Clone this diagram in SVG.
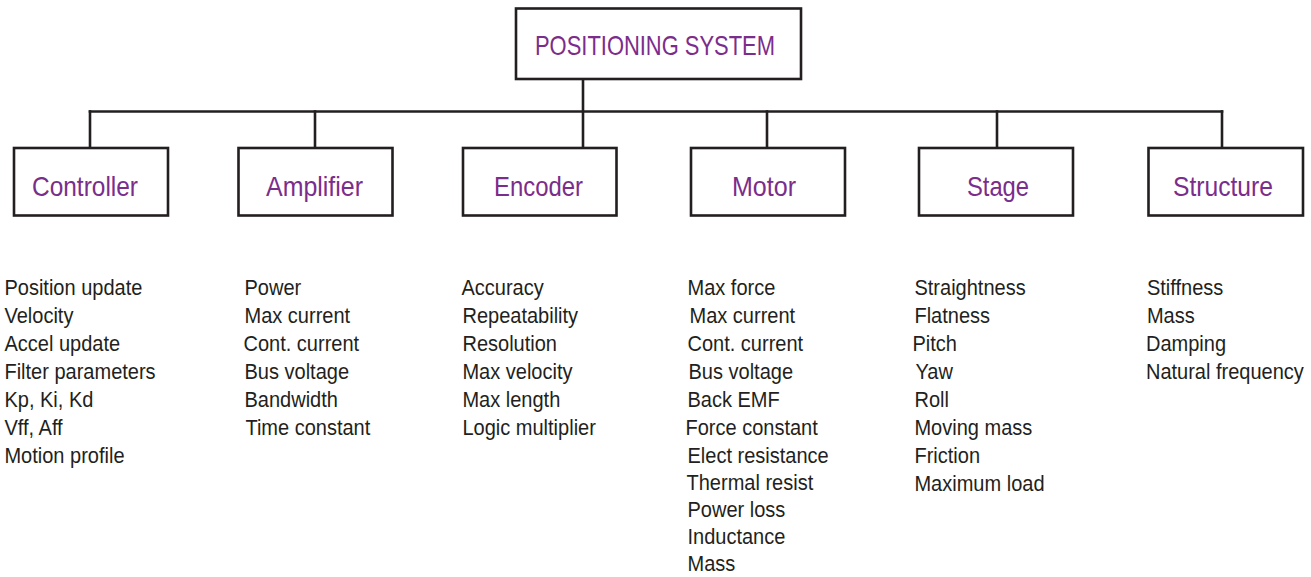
<svg xmlns="http://www.w3.org/2000/svg" width="1311" height="577" viewBox="0 0 1311 577">
  <style>
    .box { fill: #ffffff; stroke: #231f20; stroke-width: 2.6; }
    .wire { fill: none; stroke: #231f20; stroke-width: 2.6; stroke-linecap: square; }
    .head { font-family: "Liberation Sans", Arial, sans-serif; font-size: 28px; fill: #7b2d8b; }
    .item { font-family: "Liberation Sans", Arial, sans-serif; font-size: 22px; fill: #231f20; }
  </style>
  <rect width="1311" height="577" fill="#ffffff"/>

  <!-- connectors -->
  <g id="connectors">
    <path class="wire" d="M583,80 V147"/>
    <path class="wire" d="M90,111.5 H1222"/>
    <path class="wire" d="M90,111.5 V147"/>
    <path class="wire" d="M315,111.5 V147"/>
    <path class="wire" d="M767,111.5 V147"/>
    <path class="wire" d="M997,111.5 V147"/>
    <path class="wire" d="M1222,111.5 V147"/>
  </g>

  <!-- root -->
  <g id="positioning-system">
    <rect class="box" x="516" y="8.5" width="285" height="70.5"/>
    <text class="head" x="535" y="55" textLength="240" lengthAdjust="spacingAndGlyphs">POSITIONING SYSTEM</text>
  </g>

  <g id="controller">
    <rect class="box" x="14" y="148" width="154" height="67.5"/>
    <text class="head" x="32" y="196" textLength="106" lengthAdjust="spacingAndGlyphs">Controller</text>
  </g>
  <g id="amplifier">
    <rect class="box" x="238.5" y="148" width="154" height="67.5"/>
    <text class="head" x="266" y="196" textLength="97" lengthAdjust="spacingAndGlyphs">Amplifier</text>
  </g>
  <g id="encoder">
    <rect class="box" x="463" y="148" width="153.5" height="67.5"/>
    <text class="head" x="494" y="196" textLength="89" lengthAdjust="spacingAndGlyphs">Encoder</text>
  </g>
  <g id="motor">
    <rect class="box" x="691" y="148" width="154" height="67.5"/>
    <text class="head" x="732" y="196" textLength="64" lengthAdjust="spacingAndGlyphs">Motor</text>
  </g>
  <g id="stage">
    <rect class="box" x="919" y="148" width="154" height="67.5"/>
    <text class="head" x="967" y="196" textLength="62" lengthAdjust="spacingAndGlyphs">Stage</text>
  </g>
  <g id="structure">
    <rect class="box" x="1148.5" y="148" width="154.5" height="67.5"/>
    <text class="head" x="1173" y="196" textLength="100" lengthAdjust="spacingAndGlyphs">Structure</text>
  </g>

  <!-- parameter lists (narrowed horizontally) -->
  <g id="controller-params" class="item" transform="scale(0.91 1)">
    <text x="4.9" y="295">Position update</text>
    <text x="4.9" y="323">Velocity</text>
    <text x="4.9" y="351">Accel update</text>
    <text x="4.9" y="379">Filter parameters</text>
    <text x="4.9" y="407">Kp, Ki, Kd</text>
    <text x="4.9" y="435">Vff, Aff</text>
    <text x="4.9" y="463">Motion profile</text>
  </g>
  <g id="amplifier-params" class="item" transform="scale(0.91 1)">
    <text x="268.7" y="295">Power</text>
    <text x="268.7" y="323">Max current</text>
    <text x="267.6" y="351">Cont. current</text>
    <text x="268.7" y="379">Bus voltage</text>
    <text x="268.7" y="407">Bandwidth</text>
    <text x="269.7" y="435">Time constant</text>
  </g>
  <g id="encoder-params" class="item" transform="scale(0.91 1)">
    <text x="507.1" y="295">Accuracy</text>
    <text x="508.2" y="323">Repeatability</text>
    <text x="508.2" y="351">Resolution</text>
    <text x="508.2" y="379">Max velocity</text>
    <text x="508.2" y="407">Max length</text>
    <text x="508.2" y="435">Logic multiplier</text>
  </g>
  <g id="motor-params" class="item" transform="scale(0.91 1)">
    <text x="755.5" y="295">Max force</text>
    <text x="757.7" y="323">Max current</text>
    <text x="755.5" y="351">Cont. current</text>
    <text x="756.6" y="379">Bus voltage</text>
    <text x="755.5" y="407">Back EMF</text>
    <text x="753.3" y="435">Force constant</text>
    <text x="755.5" y="463">Elect resistance</text>
    <text x="754.4" y="490">Thermal resist</text>
    <text x="755.5" y="517">Power loss</text>
    <text x="755.5" y="544">Inductance</text>
    <text x="755.5" y="571">Mass</text>
  </g>
  <g id="stage-params" class="item" transform="scale(0.91 1)">
    <text x="1004.9" y="295">Straightness</text>
    <text x="1004.9" y="323">Flatness</text>
    <text x="1002.7" y="351">Pitch</text>
    <text x="1006.0" y="379">Yaw</text>
    <text x="1004.9" y="407">Roll</text>
    <text x="1004.9" y="435">Moving mass</text>
    <text x="1004.9" y="463">Friction</text>
    <text x="1004.9" y="491">Maximum load</text>
  </g>
  <g id="structure-params" class="item" transform="scale(0.91 1)">
    <text x="1260.4" y="295">Stiffness</text>
    <text x="1260.4" y="323">Mass</text>
    <text x="1259.3" y="351">Damping</text>
    <text x="1259.3" y="379">Natural frequency</text>
  </g>
</svg>
